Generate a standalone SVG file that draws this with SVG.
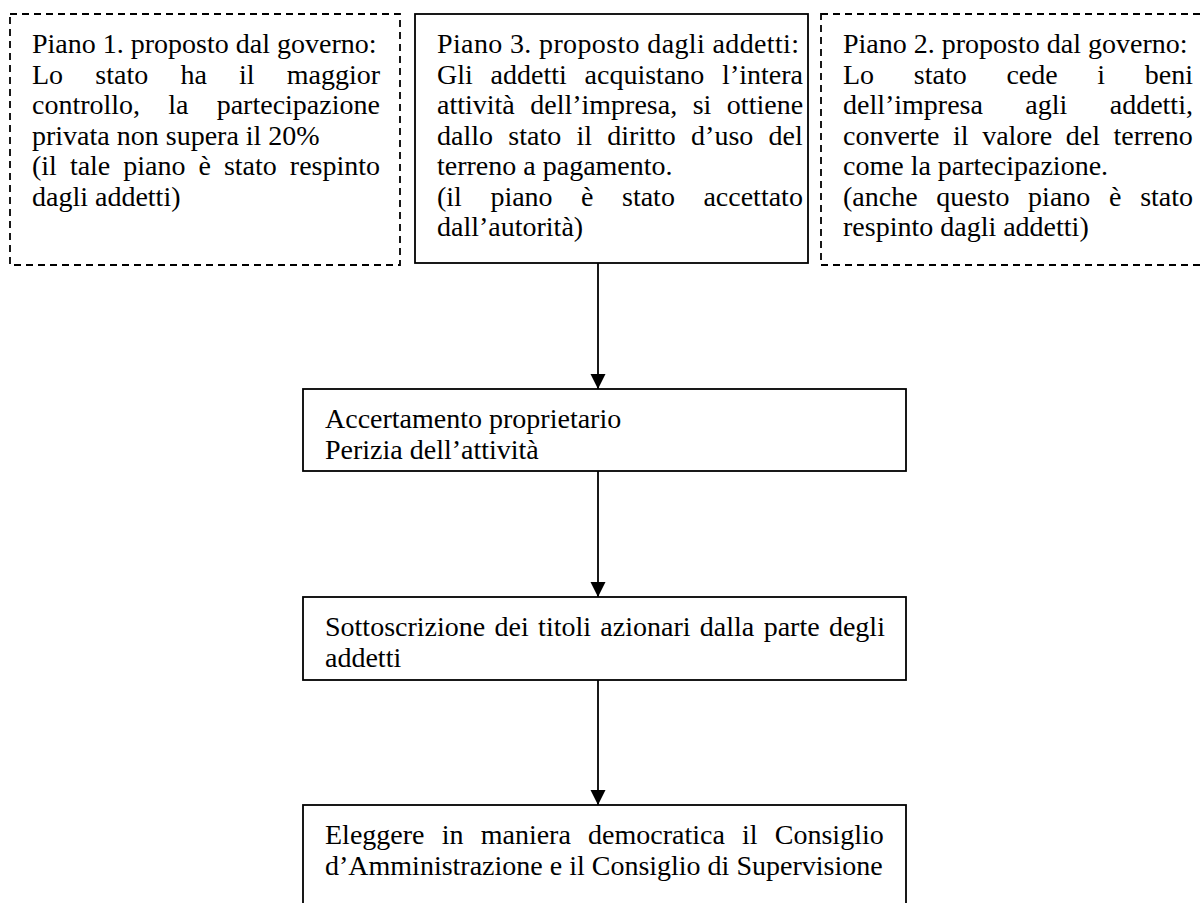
<svg xmlns="http://www.w3.org/2000/svg" width="1203" height="903" viewBox="0 0 1203 903">
  <style>
    .box { fill: #ffffff; stroke: #000000; stroke-width: 1.8; }
    .dashed { stroke-dasharray: 7 5; }
    .t { font-family: "Liberation Serif", "Times New Roman", serif; font-size: 28px; fill: #000000; }
    .link { stroke: #000000; stroke-width: 1.8; fill: none; }
  </style>
  <defs>
    <marker id="arrow" markerUnits="userSpaceOnUse" markerWidth="16" markerHeight="16" viewBox="0 0 16 16" refX="15" refY="8" orient="auto">
      <path d="M0,0.5 L15,8 L0,15.5 Z" fill="#000000"/>
    </marker>
  </defs>
  <rect width="1203" height="903" fill="#ffffff"/>

  <!-- Plan 1: rejected government proposal (justified lines use word spacing) -->
  <g id="piano1">
    <rect class="box dashed" x="10" y="14" width="390" height="251"/>
    <text class="t" x="32" y="53">Piano 1. proposto dal governo:</text>
    <text class="t" x="32" y="83.5" style="word-spacing:25.2px">Lo stato ha il maggior</text>
    <text class="t" x="32" y="114" style="word-spacing:21.2px">controllo, la partecipazione</text>
    <text class="t" x="32" y="144.5">privata non supera il 20%</text>
    <text class="t" x="32" y="175" style="word-spacing:6px">(il tale piano è stato respinto</text>
    <text class="t" x="32" y="205.5">dagli addetti)</text>
  </g>

  <!-- Plan 3: accepted employees' proposal -->
  <g id="piano3">
    <rect class="box" x="415" y="14" width="393" height="249"/>
    <text class="t" x="437" y="53" textLength="362" lengthAdjust="spacing">Piano 3. proposto dagli addetti:</text>
    <text class="t" x="437" y="83.5" style="word-spacing:10.8px">Gli addetti acquistano l’intera</text>
    <text class="t" x="437" y="114" style="word-spacing:8.5px">attività dell’impresa, si ottiene</text>
    <text class="t" x="437" y="144.5" style="word-spacing:8.3px">dallo stato il diritto d’uso del</text>
    <text class="t" x="437" y="175">terreno a pagamento.</text>
    <text class="t" x="437" y="205.5" style="word-spacing:21.5px">(il piano è stato accettato</text>
    <text class="t" x="437" y="236">dall’autorità)</text>
  </g>

  <!-- Plan 2: rejected government proposal -->
  <g id="piano2">
    <rect class="box dashed" x="821" y="14" width="394" height="251"/>
    <text class="t" x="843" y="53">Piano 2. proposto dal governo:</text>
    <text class="t" x="843" y="83.5" style="word-spacing:32.7px">Lo stato cede i beni</text>
    <text class="t" x="843" y="114" style="word-spacing:35.4px">dell’impresa agli addetti,</text>
    <text class="t" x="843" y="144.5" style="word-spacing:6.6px">converte il valore del terreno</text>
    <text class="t" x="843" y="175">come la partecipazione.</text>
    <text class="t" x="843" y="205.5" style="word-spacing:11.7px">(anche questo piano è stato</text>
    <text class="t" x="843" y="236">respinto dagli addetti)</text>
  </g>

  <!-- Process steps -->
  <g id="accertamento">
    <rect class="box" x="303" y="389" width="603" height="82"/>
    <text class="t" x="325" y="428">Accertamento proprietario</text>
    <text class="t" x="325" y="458.5">Perizia dell’attività</text>
  </g>

  <g id="sottoscrizione">
    <rect class="box" x="303" y="597" width="603" height="83"/>
    <text class="t" x="325" y="636" style="word-spacing:2.35px">Sottoscrizione dei titoli azionari dalla parte degli</text>
    <text class="t" x="325" y="666.5">addetti</text>
  </g>

  <g id="elezione">
    <rect class="box" x="303" y="805" width="603" height="110"/>
    <text class="t" x="325" y="844" style="word-spacing:10.2px">Eleggere in maniera democratica il Consiglio</text>
    <text class="t" x="325" y="874.5">d’Amministrazione e il Consiglio di Supervisione</text>
  </g>

  <!-- Connectors -->
  <g id="connectors">
    <line class="link" x1="598" y1="263" x2="598" y2="389" marker-end="url(#arrow)"/>
    <line class="link" x1="598" y1="471" x2="598" y2="597" marker-end="url(#arrow)"/>
    <line class="link" x1="598" y1="680" x2="598" y2="805" marker-end="url(#arrow)"/>
  </g>
</svg>
